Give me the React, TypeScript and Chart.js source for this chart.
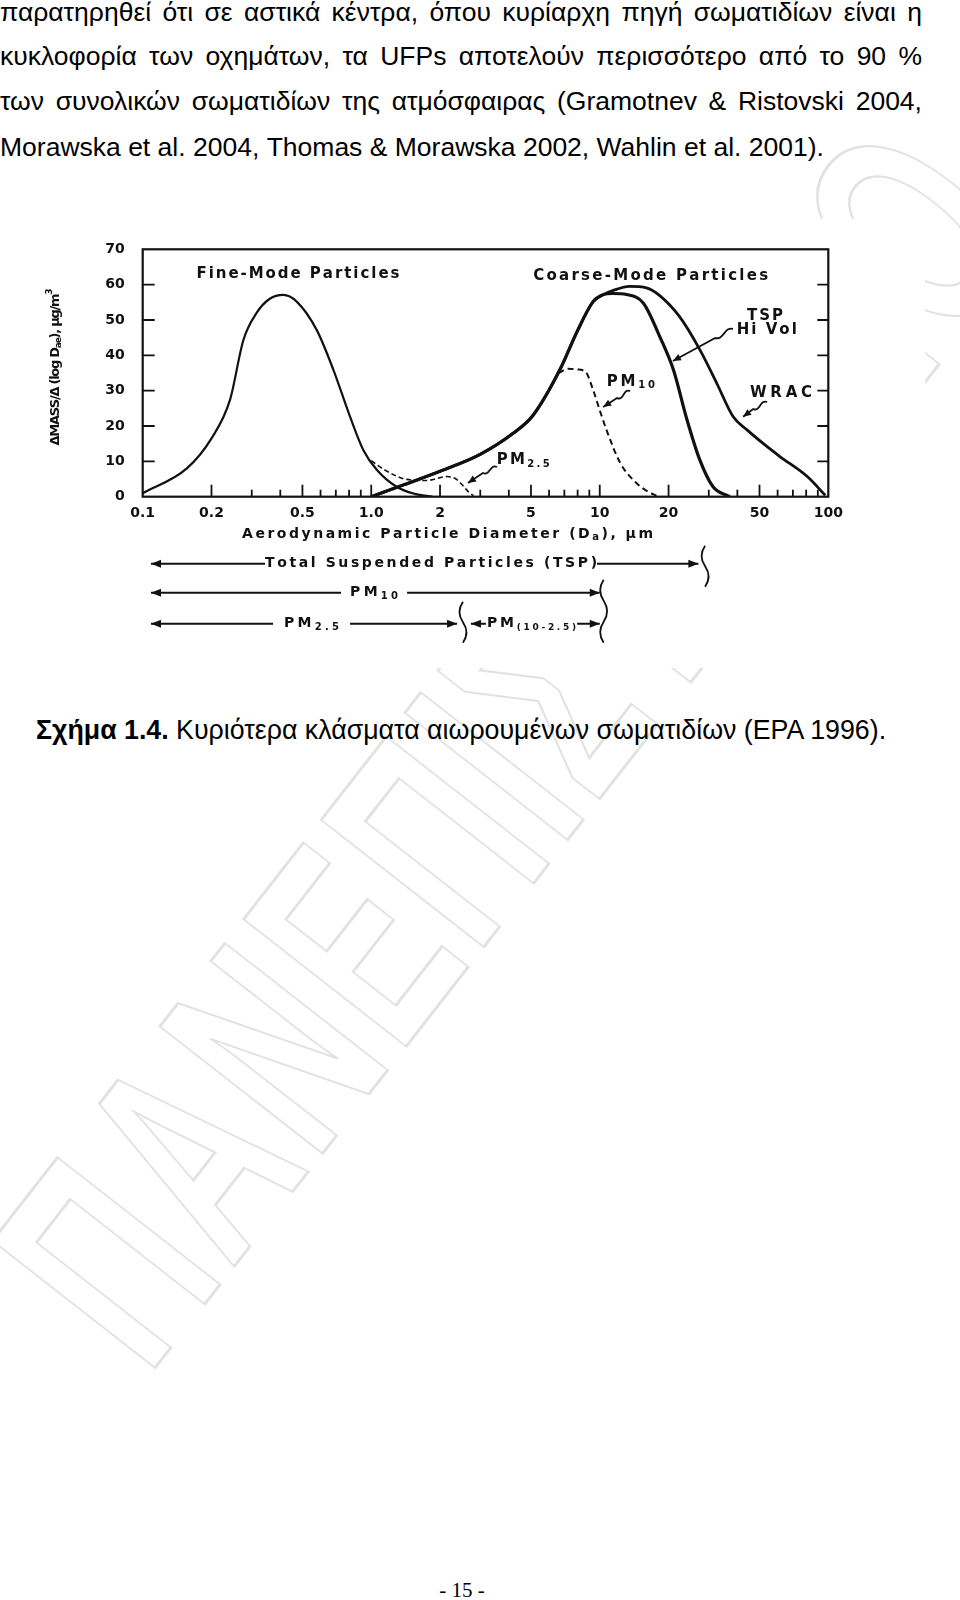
import React, { useEffect, useRef } from "react";
import { Chart, registerables } from "chart.js";

Chart.register(...registerables);

// ---------- data ----------
// Fine-mode particles (solid)
const fineD = [0.1, 0.156, 0.2, 0.241, 0.276, 0.315, 0.36, 0.412, 0.472, 0.577, 0.683, 0.807, 0.923, 1.057, 1.29, 1.55, 1.85];
const fineV = [1, 8, 16.5, 27.4, 44.4, 52, 56, 57.1, 55.2, 47.2, 35.9, 22.7, 13.2, 7.6, 2.8, 0.8, 0];
// PM2.5 sampler (dashed)
const pm25D = [1.0, 1.15, 1.43, 1.75, 2.15, 2.35, 2.53, 2.68, 2.8];
const pm25V = [10.2, 7.5, 4.9, 4.6, 5.7, 5.0, 3.0, 1.2, 0.3];
// Coarse mode, rising part shared by TSP Hi Vol and WRAC
const coarseRiseD = [1.0, 1.38, 2.0, 3.0, 4.19, 5.1, 6.7, 7.93, 9.35, 10.3];
const coarseRiseV = [0, 3.3, 7.2, 12, 18, 23, 36, 46.5, 55.2, 57.1];
// TSP Hi Vol tail
const tspTailD = [11.4, 13.1, 15.5, 18.3, 21.0, 24.1, 27.4, 31.3, 37];
const tspTailV = [57.5, 57.2, 54.8, 45.3, 35.9, 21.7, 10.4, 2.8, 0];
// WRAC tail
const wracTailD = [11.4, 13.5, 16, 18.3, 22.3, 27.4, 32.5, 38.3, 44.1, 52, 61.6, 80.9, 97];
const wracTailV = [58.3, 59.5, 59.1, 56.9, 51, 41.6, 32.1, 22.7, 18.9, 15, 11.3, 5.7, 0.4];
// PM10 sampler (dashed)
const pm10D = [6.6, 7.3, 7.93, 8.65, 9.35, 10.1, 10.7, 12.3, 14.5, 16.2, 17.7];
const pm10V = [35, 36.2, 36, 35.4, 30.2, 23.6, 18.9, 9.5, 3.8, 1.5, 0.3];

// axes
const xTickValues = [0.1, 0.2, 0.3, 0.4, 0.5, 0.6, 0.7, 0.8, 0.9, 1, 2, 3, 4, 5, 6, 7, 8, 9, 10, 20, 30, 40, 50, 60, 70, 80, 90, 100];
const xLabelValues = [0.1, 0.2, 0.5, 1, 2, 5, 10, 20, 50, 100];
const xLabelTexts = ["0.1", "0.2", "0.5", "1.0", "2", "5", "10", "20", "50", "100"];
const yInnerTicks = [10, 20, 30, 40, 50, 60];

const bodyLines = [
  "παρατηρηθεί ότι σε αστικά κέντρα, όπου κυρίαρχη πηγή σωματιδίων είναι η",
  "κυκλοφορία των οχημάτων, τα UFPs αποτελούν περισσότερο από το 90 %",
  "των συνολικών σωματιδίων της ατμόσφαιρας (Gramotnev & Ristovski 2004,",
  "Morawska et al. 2004, Thomas & Morawska 2002, Wahlin et al. 2001).",
];

const INK = "#111";
const CFONT = "'DejaVu Sans', sans-serif";

type Seg = { t: string; size: number; dy?: number };

function richText(ctx: CanvasRenderingContext2D, segs: Seg[], x: number, y: number, target: number, align: "left" | "center" | "right") {
  let w0 = 0;
  let n = 0;
  for (const s of segs) {
    ctx.font = `bold ${s.size}px ${CFONT}`;
    for (const ch of s.t) {
      w0 += ctx.measureText(ch).width;
      n++;
    }
  }
  const ls = n > 1 ? (target - w0) / (n - 1) : 0;
  let cx = align === "center" ? x - target / 2 : align === "right" ? x - target : x;
  ctx.textAlign = "left";
  ctx.textBaseline = "middle";
  for (const s of segs) {
    ctx.font = `bold ${s.size}px ${CFONT}`;
    for (const ch of s.t) {
      ctx.fillText(ch, cx, y + (s.dy || 0));
      cx += ctx.measureText(ch).width + ls;
    }
  }
}

function arrowHead(ctx: CanvasRenderingContext2D, fx: number, fy: number, tx: number, ty: number, len: number, half: number) {
  const dx = tx - fx, dy = ty - fy;
  const l = Math.hypot(dx, dy) || 1;
  const ux = dx / l, uy = dy / l;
  const bx = tx - ux * len, by = ty - uy * len;
  ctx.beginPath();
  ctx.moveTo(tx, ty);
  ctx.lineTo(bx - uy * half, by + ux * half);
  ctx.lineTo(bx + uy * half, by - ux * half);
  ctx.closePath();
  ctx.fill();
}

function squiggle(ctx: CanvasRenderingContext2D, p0: number[], p1: number[], tip: number[]) {
  const dx = p1[0] - p0[0], dy = p1[1] - p0[1];
  const len = Math.hypot(dx, dy) || 1;
  const nx = -dy / len, ny = dx / len;
  ctx.beginPath();
  ctx.moveTo(p0[0], p0[1]);
  ctx.bezierCurveTo(p0[0] + dx / 3 + nx * 6, p0[1] + dy / 3 + ny * 6, p0[0] + (2 * dx) / 3 - nx * 6, p0[1] + (2 * dy) / 3 - ny * 6, p1[0], p1[1]);
  ctx.lineTo(tip[0], tip[1]);
  ctx.stroke();
  arrowHead(ctx, p1[0], p1[1], tip[0], tip[1], 8, 3.5);
}

function wave(ctx: CanvasRenderingContext2D, x: number, top: number, bot: number, amp: number, parts: number) {
  const h = (bot - top) / parts;
  ctx.beginPath();
  ctx.moveTo(x, top);
  for (let i = 0; i < parts; i++) {
    const s = i % 2 === 0 ? -1 : 1;
    ctx.quadraticCurveTo(x + s * amp, top + h * (i + 0.5), x, top + h * (i + 1));
  }
  ctx.stroke();
}

const annotPlugin = {
  id: "annot",
  afterDraw(chart: any) {
    const { ctx, chartArea: a, scales } = chart;
    const xs = scales.x, ys = scales.y;
    const X = (d: number) => xs.getPixelForValue(d);
    const Y = (v: number) => ys.getPixelForValue(v);
    const P = (d: number, v: number) => [X(d), Y(v)];
    ctx.save();
    ctx.strokeStyle = INK;
    ctx.fillStyle = INK;
    ctx.lineCap = "butt";

    // plot frame
    ctx.lineWidth = 2.2;
    ctx.strokeRect(a.left, a.top, a.right - a.left, a.bottom - a.top);

    // inner x ticks
    ctx.lineWidth = 1.8;
    for (const v of xTickValues) {
      if (v <= 0.1 || v >= 100) continue;
      const px = X(v);
      const major = xLabelValues.some((l) => Math.abs(l - v) < 1e-9);
      const L = major ? 12 : 7;
      ctx.beginPath();
      ctx.moveTo(px, a.bottom);
      ctx.lineTo(px, a.bottom - L);
      ctx.stroke();
    }
    // inner y ticks, both sides
    for (const v of yInnerTicks) {
      const py = Y(v);
      ctx.beginPath();
      ctx.moveTo(a.left, py);
      ctx.lineTo(a.left + 12, py);
      ctx.moveTo(a.right, py);
      ctx.lineTo(a.right - 11, py);
      ctx.stroke();
    }

    // in-plot labels
    const [fx, fy] = P(0.478, 63.0);
    richText(ctx, [{ t: "Fine-Mode Particles", size: 15 }], fx, fy, 203, "center");
    const [cx, cy] = P(16.7, 62.5);
    richText(ctx, [{ t: "Coarse-Mode Particles", size: 15 }], cx, cy, 235, "center");
    const [tx, ty] = P(52.9, 51.1);
    richText(ctx, [{ t: "TSP", size: 15 }], tx, ty, 36, "center");
    const [hx, hy] = P(53.8, 47.2);
    richText(ctx, [{ t: "Hi Vol", size: 15 }], hx, hy, 60, "center");
    const [mx, my] = P(10.74, 32.5);
    richText(ctx, [{ t: "PM", size: 15 }, { t: "10", size: 10, dy: 4 }], mx, my, 48, "left");
    const [wx, wy] = P(62.1, 29.3);
    richText(ctx, [{ t: "WRAC", size: 15 }], wx, wy, 62, "center");
    const [qx, qy] = P(3.54, 10.4);
    richText(ctx, [{ t: "PM", size: 15 }, { t: "2.5", size: 10, dy: 4 }], qx, qy, 53, "left");

    // squiggle arrows
    ctx.lineWidth = 1.8;
    squiggle(ctx, P(38.3, 47.5), P(32.0, 44.9), P(20.9, 38.4));
    squiggle(ctx, P(13.6, 29.9), P(11.9, 27.9), P(10.35, 25.4));
    squiggle(ctx, P(54.0, 26.8), P(46.9, 24.8), P(42.4, 22.6));
    squiggle(ctx, P(3.55, 8.4), P(3.08, 6.7), P(2.65, 3.9));

    // axis titles
    ctx.save();
    ctx.translate(56, (a.top + a.bottom) / 2 - 6);
    ctx.rotate(-Math.PI / 2);
    richText(ctx, [{ t: "ΔMASS/Δ (log D", size: 13 }, { t: "ae", size: 9, dy: 3 }, { t: "), µg/m", size: 13 }, { t: "3", size: 9, dy: -6 }], 0, 0, 157, "center");
    ctx.restore();
    richText(ctx, [{ t: "Aerodynamic Particle Diameter (D", size: 14 }, { t: "a", size: 10, dy: 3 }, { t: "), µm", size: 14 }], X(2.157), a.bottom + 38, 411, "center");

    // size-range rows under the axis
    const left = X(0.1087);
    const rowT = a.bottom + 67, rowP10 = a.bottom + 96, rowP25 = a.bottom + 127;
    ctx.lineWidth = 2;
    const hLine = (x0: number, x1: number, y: number, hl: boolean, hr: boolean) => {
      ctx.beginPath();
      ctx.moveTo(x0, y);
      ctx.lineTo(x1, y);
      ctx.stroke();
      if (hl) arrowHead(ctx, x1, y, x0, y, 10, 4);
      if (hr) arrowHead(ctx, x0, y, x1, y, 10, 4);
    };
    const label = (segs: Seg[], cxp: number, y: number, w: number, pad: number) => {
      ctx.fillStyle = "#fff";
      ctx.fillRect(cxp - w / 2 - pad, y - 10, w + 2 * pad, 20);
      ctx.fillStyle = INK;
      richText(ctx, segs, cxp, y, w, "center");
    };
    // TSP
    hLine(left, X(27), rowT, true, true);
    label([{ t: "Total Suspended Particles (TSP)", size: 14 }], X(1.827), rowT, 332, 0);
    // PM10
    hLine(left, X(10), rowP10, true, true);
    label([{ t: "PM", size: 14 }, { t: "10", size: 10, dy: 4 }], X(1.029), rowP10, 48, 9);
    // PM2.5
    hLine(left, X(2.375), rowP25, true, true);
    label([{ t: "PM", size: 14 }, { t: "2.5", size: 10, dy: 4 }], X(0.548), rowP25, 55, 11);
    // PM(10-2.5)
    hLine(X(2.73), X(10), rowP25, true, true);
    label([{ t: "PM", size: 14 }, { t: "(10-2.5)", size: 9, dy: 4 }], X(5.03), rowP25, 89, 1);

    // braces
    ctx.lineWidth = 1.8;
    wave(ctx, X(28.9), rowT - 18, rowT + 23, 7, 2);
    wave(ctx, X(10.4), rowP10 - 13, rowP25 + 19, 7, 3);
    wave(ctx, X(2.52), rowP25 - 22, rowP25 + 19, 7, 2);

    ctx.restore();
  },
};

const mk = (D: number[], V: number[]) => D.map((d, i) => ({ x: d, y: V[i] }));

export default function App() {
  const ref = useRef<HTMLCanvasElement>(null);
  useEffect(() => {
    const c = ref.current!;
    const tickFont = { family: CFONT, weight: "bold" as const, size: 14 };
    const base = { pointRadius: 0, borderColor: INK, fill: false, cubicInterpolationMode: "monotone" as const };
    const chart = new Chart(c, {
      type: "line",
      data: {
        datasets: [
          { ...base, data: mk(fineD, fineV), borderWidth: 2.2 },
          { ...base, data: mk(pm25D, pm25V), borderWidth: 1.6, borderDash: [5, 3] },
          { ...base, data: mk(pm10D, pm10V), borderWidth: 2, borderDash: [6, 4] },
          { ...base, data: mk([...coarseRiseD, ...wracTailD], [...coarseRiseV, ...wracTailV]), borderWidth: 2.8 },
          { ...base, data: mk([...coarseRiseD, ...tspTailD], [...coarseRiseV, ...tspTailV]), borderWidth: 3.2 },
        ],
      },
      options: {
        animation: false,
        responsive: false,
        devicePixelRatio: 1,
        layout: { padding: { top: 30.3, right: 96.7, left: 0, bottom: 0 } },
        plugins: { legend: { display: false }, tooltip: { enabled: false }, title: { display: false } },
        scales: {
          x: {
            type: "logarithmic",
            min: 0.1,
            max: 100,
            afterBuildTicks: (s: any) => {
              s.ticks = xTickValues.map((v) => ({ value: v }));
            },
            afterFit: (s: any) => {
              s.height = 171.3;
            },
            grid: { display: false, drawTicks: false },
            border: { display: false },
            ticks: {
              autoSkip: false,
              maxRotation: 0,
              padding: 8,
              color: INK,
              font: tickFont,
              callback: (v: any) => {
                const i = xLabelValues.findIndex((l) => Math.abs(l - Number(v)) < 1e-9);
                return i >= 0 ? xLabelTexts[i] : "";
              },
            },
          },
          y: {
            min: 0,
            max: 70,
            afterFit: (s: any) => {
              s.width = 142.7;
            },
            grid: { display: false, drawTicks: false },
            border: { display: false },
            ticks: { stepSize: 10, padding: 18, color: INK, font: tickFont },
          },
        },
      },
      plugins: [annotPlugin],
    });
    return () => chart.destroy();
  }, []);

  const textFont = "'Liberation Sans', Arial, sans-serif";
  const lineCenters = [14.5, 58.5, 103, 149];
  return (
    <div style={{ position: "absolute", left: 0, top: 0, width: 960, height: 1600, overflow: "hidden", background: "#fff" }}>
      <div
        style={{
          position: "absolute",
          left: 512,
          top: 742,
          transform: "translate(-50%, -50%) rotate(-52deg) scaleX(0.6)",
          fontFamily: textFont,
          fontWeight: "bold",
          fontSize: 300,
          lineHeight: "300px",
          whiteSpace: "nowrap",
          color: "transparent",
          WebkitTextStroke: "3px #e2e2e2",
          letterSpacing: 10,
        }}
      >
        ΠΑΝΕΠΙΣΤΗΜΙΟ
      </div>
      {bodyLines.map((t, i) => (
        <div
          key={i}
          style={{
            position: "absolute",
            left: 0,
            top: lineCenters[i] - 17.3,
            width: 922,
            height: 30,
            lineHeight: "30px",
            fontFamily: textFont,
            fontSize: 26.5,
            color: "#000",
            whiteSpace: "nowrap",
            display: "flex",
            justifyContent: i < 3 ? "space-between" : "flex-start",
            gap: i < 3 ? 0 : "0.278em",
          }}
        >
          {t.split(" ").map((w, j) => (
            <span key={j}>{w}</span>
          ))}
        </div>
      ))}
      <canvas ref={ref} width={925} height={449} style={{ position: "absolute", left: 0, top: 219, width: 925, height: 449, background: "#fff" }} />
      <div
        style={{
          position: "absolute",
          left: 36,
          top: 715,
          lineHeight: "30px",
          fontFamily: textFont,
          fontSize: 26.75,
          whiteSpace: "nowrap",
          color: "#000",
        }}
      >
        <b>Σχήμα 1.4.</b> Κυριότερα κλάσματα αιωρουμένων σωματιδίων (EPA 1996).
      </div>
      <div
        style={{
          position: "absolute",
          left: 412,
          width: 100,
          top: 1577,
          textAlign: "center",
          fontFamily: "'Liberation Serif', 'Times New Roman', serif",
          fontSize: 21,
          lineHeight: "26px",
          color: "#000",
        }}
      >
        - 15 -
      </div>
    </div>
  );
}
